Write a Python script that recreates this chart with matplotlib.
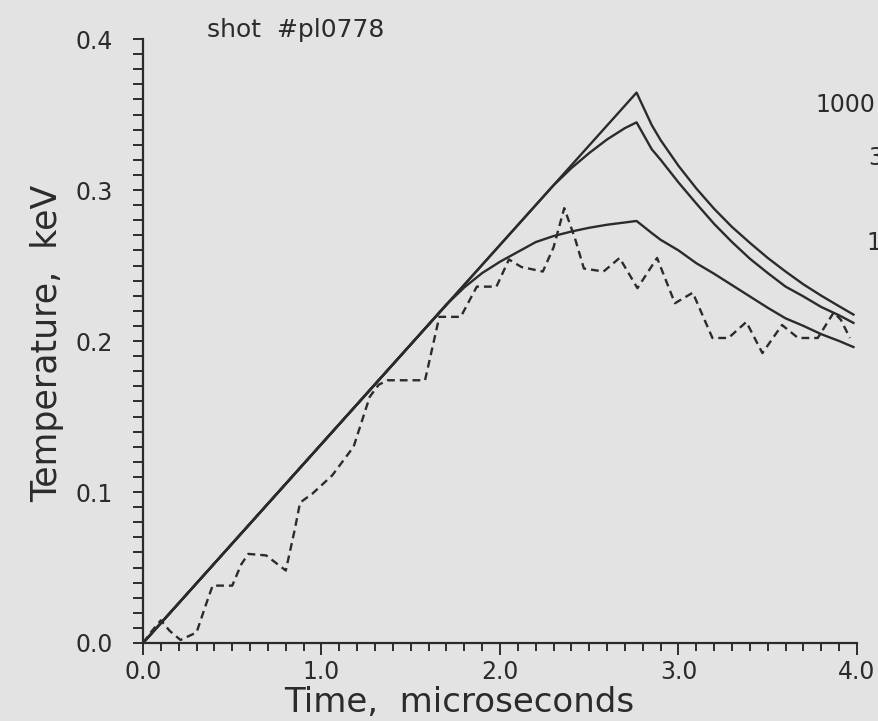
import matplotlib
matplotlib.use("Agg")
import matplotlib.pyplot as plt
from matplotlib.ticker import MultipleLocator

# ---- data ----
# shared linear rise (all three model curves) up to the first branch point
rise_t = [0.0, 1.0, 1.6, 1.7]
rise_T = [0.0, 0.1318, 0.2109, 0.2241]

# model curve labelled "1000"
t_1000 = [0.0, 2.765, 2.85, 2.9, 3.0, 3.1, 3.2, 3.3, 3.4, 3.5, 3.6, 3.7, 3.8, 3.9, 3.98]
T_1000 = [0.0, 0.3645, 0.343, 0.333, 0.316, 0.301, 0.2875, 0.2755, 0.265, 0.255, 0.246, 0.2375, 0.230, 0.223, 0.2175]

# model curve labelled "300"
t_300 = [0.0, 2.3, 2.4, 2.5, 2.6, 2.7, 2.765, 2.85, 2.9, 3.0, 3.1, 3.2, 3.3, 3.4, 3.5, 3.6, 3.7, 3.8, 3.9, 3.98]
T_300 = [0.0, 0.3031, 0.3145, 0.3245, 0.3335, 0.341, 0.3448, 0.327, 0.320, 0.305, 0.291, 0.2775, 0.2655, 0.2545, 0.245, 0.236, 0.2295, 0.2225, 0.217, 0.212]

# model curve labelled "100"
t_100 = [0.0, 1.7, 1.8, 1.9, 2.0, 2.1, 2.2, 2.3, 2.4, 2.5, 2.6, 2.7, 2.765, 2.85, 2.9, 3.0, 3.1, 3.2, 3.3, 3.4, 3.5, 3.6, 3.7, 3.8, 3.9, 3.98]
T_100 = [0.0, 0.2241, 0.2355, 0.245, 0.2525, 0.259, 0.2655, 0.2695, 0.2725, 0.275, 0.277, 0.2785, 0.2795, 0.2715, 0.267, 0.260, 0.2515, 0.2445, 0.237, 0.2295, 0.222, 0.215, 0.210, 0.2045, 0.200, 0.196]

# measured temperature (dashed)
t_meas = [0.0, 0.05, 0.1, 0.15, 0.21, 0.30, 0.36, 0.39, 0.50, 0.55, 0.59, 0.69, 0.80, 0.85, 0.88,
          0.95, 1.06, 1.18, 1.27, 1.32, 1.37, 1.58, 1.66, 1.78, 1.87, 1.98, 2.05, 2.12, 2.24, 2.30,
          2.36, 2.42, 2.47, 2.58, 2.67, 2.77, 2.88, 2.98, 3.08, 3.19, 3.28, 3.38, 3.47, 3.58, 3.67,
          3.78, 3.87, 3.91, 3.96]
T_meas = [0.0, 0.008, 0.015, 0.008, 0.002, 0.007, 0.028, 0.038, 0.038, 0.052, 0.059, 0.058, 0.048, 0.075, 0.093,
          0.099, 0.111, 0.130, 0.163, 0.171, 0.174, 0.174, 0.216, 0.216, 0.236, 0.236, 0.254, 0.249, 0.246, 0.262,
          0.288, 0.268, 0.248, 0.246, 0.255, 0.235, 0.255, 0.225, 0.232, 0.202, 0.202, 0.2126, 0.192, 0.2106, 0.202,
          0.202, 0.219, 0.214, 0.202]

curve_labels = ["1000", "300", "100"]
x_ticks = [0.0, 1.0, 2.0, 3.0, 4.0]
x_tick_labels = ["0.0", "1.0", "2.0", "3.0", "4.0"]
y_ticks = [0.0, 0.1, 0.2, 0.3, 0.4]
y_tick_labels = ["0.0", "0.1", "0.2", "0.3", "0.4"]

# ---- figure ----
bg = "#e3e3e3"
ink = "#2b2b2b"
plt.rcParams["font.family"] = ["DejaVu Sans"]

W, H = 879, 721
fig = plt.figure(figsize=(W / 100, H / 100), dpi=100, facecolor=bg)
ax = fig.add_axes([143 / W, 1 - 643 / H, 714 / W, 604 / H])
ax.set_facecolor(bg)

lw = 1.7
ax.plot(t_1000, T_1000, color=ink, lw=lw)
ax.plot(t_300, T_300, color=ink, lw=lw)
ax.plot(t_100, T_100, color=ink, lw=lw)
ax.plot(rise_t, rise_T, color=ink, lw=lw)
ax.plot(t_meas, T_meas, color=ink, lw=1.7, linestyle=(0, (3.3, 2.1)))

ax.set_xlim(0.0, 4.0)
ax.set_ylim(0.0, 0.4)

for s in ["top", "right"]:
    ax.spines[s].set_visible(False)
for s in ["left", "bottom"]:
    ax.spines[s].set_color(ink)
    ax.spines[s].set_linewidth(1.6)

ax.set_xticks(x_ticks)
ax.set_xticklabels(x_tick_labels)
ax.set_yticks(y_ticks)
ax.set_yticklabels(y_tick_labels)
ax.xaxis.set_minor_locator(MultipleLocator(0.1))
ax.yaxis.set_minor_locator(MultipleLocator(0.01))
ax.tick_params(axis="x", which="major", direction="out", length=8.5, width=1.4, color=ink,
               labelsize=17, labelcolor=ink, pad=4)
ax.tick_params(axis="x", which="minor", direction="out", length=6, width=1.4, color=ink)
ax.tick_params(axis="y", which="both", direction="out", length=7.5, width=1.4, color=ink,
               labelsize=17, labelcolor=ink, pad=14)

ax.set_xlabel("Time,  microseconds", fontsize=24.5, color=ink)
ax.xaxis.set_label_coords((459 - 143) / 714, (643 - 703) / 604)
ax.xaxis.label.set_va("center")
ax.set_ylabel("Temperature,  keV", fontsize=25, color=ink)
ax.yaxis.set_label_coords((47 - 143) / 714, (643 - 343) / 604)
ax.yaxis.label.set_va("center")

fig.text(207 / W, 1 - 30 / H, "shot  #pl0778", fontsize=18, color=ink, va="center", ha="left")

# curve labels at the right margin (cut off by the figure edge, as in the original)
label_pos = [(815, 105), (868, 158), (866, 243)]
for lab, (px, py) in zip(curve_labels, label_pos):
    fig.text(px / W, 1 - py / H, lab, fontsize=17, color=ink, va="center", ha="left")

fig.savefig("out.png", dpi=100, facecolor=bg)
